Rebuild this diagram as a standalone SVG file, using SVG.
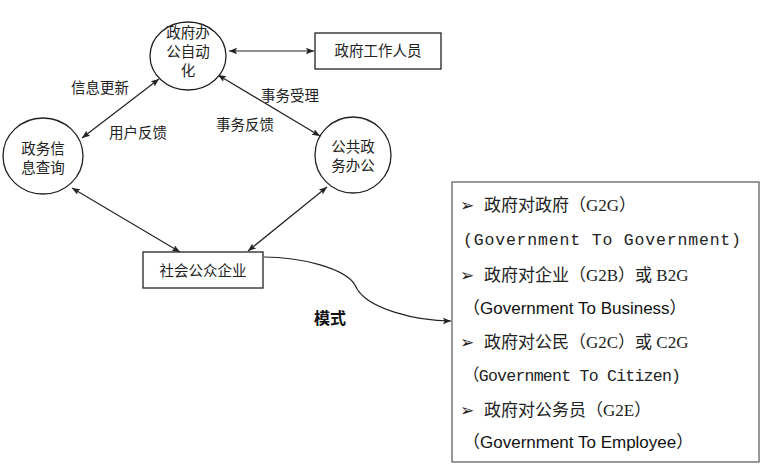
<svg xmlns="http://www.w3.org/2000/svg" width="770" height="468" viewBox="0 0 770 468">
<style>
.node{fill:#fff;stroke:#222;stroke-width:1.3}
.t{font-family:"Noto Sans CJK SC","Noto Sans",sans-serif;font-size:14.5px;fill:#222;text-anchor:middle}
.c{fill:none;stroke:#222;stroke-width:1.2}
.z{font-family:"Liberation Serif","Noto Sans CJK SC",serif;font-size:17px;fill:#222}
.m{font-family:"Liberation Mono","Noto Sans CJK SC",monospace;font-size:16.5px;fill:#222}
.s{font-family:"Liberation Sans","Noto Sans CJK SC",sans-serif;font-size:17px;fill:#111}
.b{font-family:"DejaVu Sans",sans-serif;font-size:17px;fill:#222}
</style>
<defs>
<marker id="ah" viewBox="0 0 10 10" refX="10" refY="5" markerWidth="8" markerHeight="8" markerUnits="userSpaceOnUse" orient="auto-start-reverse">
<path d="M0,1 L10,5 L0,9 L2,5 z" fill="#222"/>
</marker>
</defs>
<rect width="770" height="468" fill="#fff"/>
<g id="connectors">
<line class="c" x1="229" y1="51" x2="314" y2="51" marker-start="url(#ah)" marker-end="url(#ah)"/>
<line class="c" x1="159" y1="79" x2="82" y2="138" marker-start="url(#ah)" marker-end="url(#ah)"/>
<line class="c" x1="218" y1="75" x2="320" y2="136" marker-start="url(#ah)" marker-end="url(#ah)"/>
<line class="c" x1="72" y1="188" x2="180" y2="252" marker-start="url(#ah)" marker-end="url(#ah)"/>
<line class="c" x1="327" y1="187" x2="248" y2="251" marker-start="url(#ah)" marker-end="url(#ah)"/>
<path class="c" d="M264,257 C300,257 345,268 355,285 C365,310 420,321 451,321" marker-end="url(#ah)"/>
<text class="t" x="100" y="93">信息更新</text>
<text class="t" x="138" y="138">用户反馈</text>
<text class="t" x="290" y="101">事务受理</text>
<text class="t" x="245" y="130">事务反馈</text>
<text x="330" y="324" style="font-family:'Noto Sans CJK SC',sans-serif;font-size:16px;font-weight:bold;fill:#111;text-anchor:middle">模式</text>
</g>
<g id="n1">
<ellipse class="node" cx="188" cy="56" rx="38" ry="34"/>
<text class="t" x="188" y="38">政府办</text>
<text class="t" x="188" y="57">公自动</text>
<text class="t" x="188" y="76">化</text>
</g>
<g id="n2">
<ellipse class="node" cx="43" cy="156" rx="40" ry="38"/>
<text class="t" x="43" y="154">政务信</text>
<text class="t" x="43" y="173">息查询</text>
</g>
<g id="n3">
<ellipse class="node" cx="353" cy="155" rx="38" ry="38"/>
<text class="t" x="353" y="152">公共政</text>
<text class="t" x="353" y="171">务办公</text>
</g>
<g id="n4">
<rect class="node" x="315" y="33" width="126" height="36"/>
<text class="t" x="378" y="56">政府工作人员</text>
</g>
<g id="n5">
<rect class="node" x="143" y="252" width="120" height="36"/>
<text class="t" x="203" y="276">社会公众企业</text>
</g>
<g id="n6">
<rect x="452" y="182" width="307" height="280" fill="#fff" stroke="#555" stroke-width="1.2"/>
<text class="b" x="460" y="211">➢</text>
<text class="z" x="484" y="211">政府对政府（G2G）</text>
<text class="m" x="463" y="245" textLength="278" lengthAdjust="spacing">(Government To Government)</text>
<text class="b" x="460" y="281">➢</text>
<text class="z" x="484" y="281">政府对企业（G2B）或 B2G</text>
<text class="s" x="463" y="314">（Government To Business）</text>
<text class="b" x="460" y="348">➢</text>
<text class="z" x="484" y="348">政府对公民（G2C）或 C2G</text>
<text class="m" x="463" y="381" textLength="218" lengthAdjust="spacing">（Government To Citizen)</text>
<text class="b" x="460" y="416">➢</text>
<text class="z" x="484" y="416">政府对公务员（G2E）</text>
<text class="s" x="463" y="448">（Government To Employee）</text>
</g>
</svg>
